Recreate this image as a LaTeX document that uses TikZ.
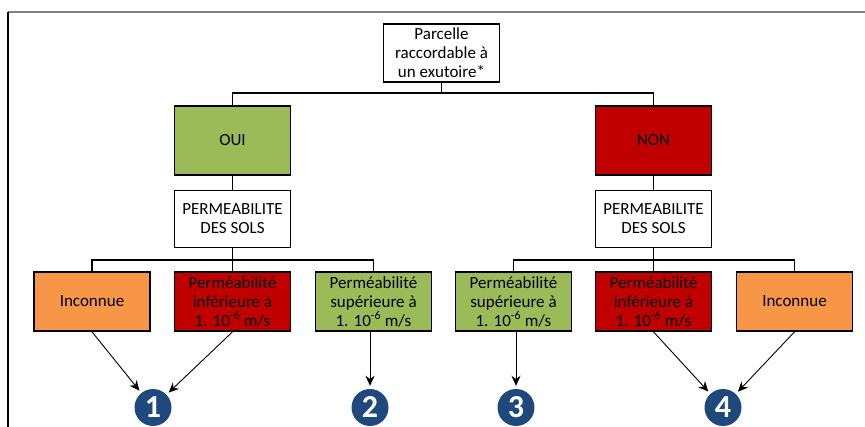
\documentclass[tikz,border=0pt]{standalone}
\usepackage{fontspec}
\setmainfont{Carlito}
\usepackage{tikz}
\usetikzlibrary{arrows.meta,positioning}

\definecolor{vert}{HTML}{9BBB59}
\definecolor{rouge}{HTML}{C00000}
\definecolor{orange}{HTML}{F79646}
\definecolor{bleu}{HTML}{1F497D}

\tikzset{
    boite/.style={draw, line width=1.7pt, align=center, inner sep=0.5pt,
        minimum width=116pt, font=\fontsize{17}{19}\selectfont},
    trait/.style={line width=1.6pt},
    fleche/.style={line width=0.9pt, -{Stealth[length=10pt,width=9pt]}, shorten >=3pt},
    rond/.style={circle, fill=bleu, text=white, inner sep=0pt, minimum size=37pt,
        font=\fontsize{32}{32}\selectfont\bfseries}
}

\begin{document}
\begin{tikzpicture}[x=1pt, y=-1pt]
                        \useasboundingbox (0,0) rectangle (865,427);
                        \draw[gray, line width=2pt] (8,12) -- (865,12);
                        \draw[line width=1.3pt] (8,12) -- (8,427);
                        % niveau 1
                        \node[boite, minimum height=58pt] (top) at (441.5,53) {Parcelle\\raccordable à\\un exutoire*};
                        \node[boite, fill=vert, minimum height=69pt] (oui) at (232.5,140.5) {OUI};
                        \node[boite, fill=rouge, minimum height=69pt] (non) at (653.5,140.5) {NON};
                        \node[boite, minimum height=57pt] (permg) at (232.5,219) {PERMEABILITE\\DES SOLS};
                        \node[boite, minimum height=57pt] (permd) at (653.5,219) {PERMEABILITE\\DES SOLS};
                        % niveau 3
                        \node[boite, fill=orange, minimum height=59pt] (incg) at (92,301.5) {Inconnue};
                        \node[boite, fill=rouge, minimum height=59pt] (infg) at (232.5,301.5) {Perméabilité\\inférieure à\\1. 10\textsuperscript{-6} m/s};
                        \node[boite, fill=vert, minimum height=59pt] (supg) at (373.5,301.5) {Perméabilité\\supérieure à\\1. 10\textsuperscript{-6} m/s};
                        \node[boite, fill=vert, minimum height=59pt] (supd) at (513.5,301.5) {Perméabilité\\supérieure à\\1. 10\textsuperscript{-6} m/s};
                        \node[boite, fill=rouge, minimum height=59pt] (infd) at (653.5,301.5) {Perméabilité\\inférieure à\\1. 10\textsuperscript{-6} m/s};
                        \node[boite, fill=orange, minimum height=59pt] (incd) at (794.5,301.5) {Inconnue};
                        % cas
                        \node[rond] (c1) at (153,407.5) {1};
                        \node[rond] (c2) at (370,407.5) {2};
                        \node[rond] (c3) at (516,407.5) {3};
                        \node[rond] (c4) at (723,407.5) {4};
                        \coordinate (j0) at (441.5,93);
                        \coordinate (jg) at (232.5,260);
                        \coordinate (jd) at (653.5,260);
                        \draw[trait] (top.south) -- (j0);
                        \draw[trait] (oui.north) |- (j0) -| (non.north);
                        \draw[trait] (oui.south) -- (permg.north);
                        \draw[trait] (non.south) -- (permd.north);
                        \draw[trait] (permg.south) -- (jg);
                        \draw[trait] (incg.north) |- (jg) -| (supg.north);
                        \draw[trait] (jg) -- (infg.north);
                        \draw[trait] (permd.south) -- (jd);
                        \draw[trait] (supd.north) |- (jd) -| (incd.north);
                        \draw[trait] (jd) -- (infd.north);
                        \draw
                        (incg.south) edge[fleche] (c1)
                        (infg.south) edge[fleche] (c1)
                        (supg.south -| c2) edge[fleche] (c2)
                        (supd.south -| c3) edge[fleche] (c3)
                        (infd.south) edge[fleche] (c4)
                        (incd.south) edge[fleche] (c4);
                    \end{tikzpicture}
\end{document}
